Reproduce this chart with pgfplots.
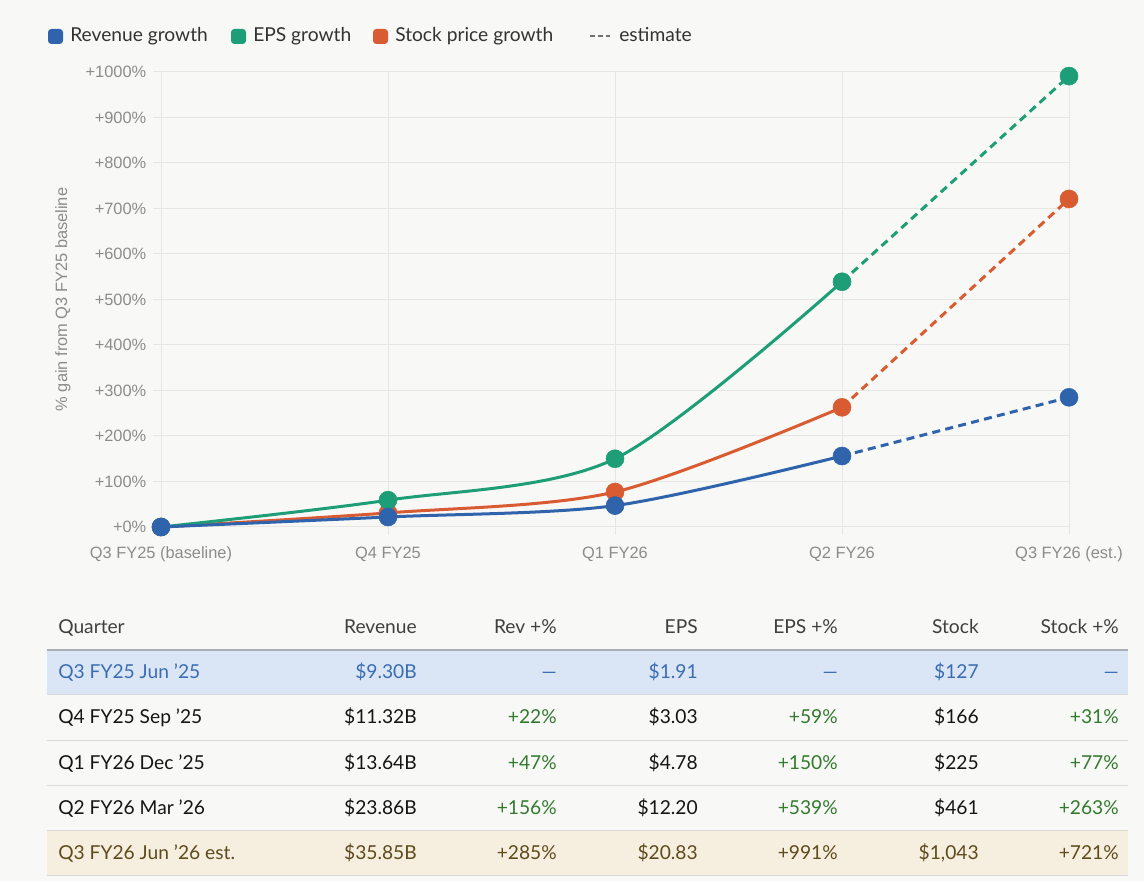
\documentclass[border=0pt]{standalone}
\usepackage{pgfplots}
\pgfplotsset{compat=1.18}
\usepackage{fontspec}
\setmainfont{Lato}
\newfontfamily\arial{Liberation Sans}
\definecolor{bg}{HTML}{F8F8F6}
\definecolor{cblue}{HTML}{2F64AD}
\definecolor{cgreen}{HTML}{1E9E76}
\definecolor{corange}{HTML}{D95B31}
\definecolor{gridc}{HTML}{E6E6E4}
\definecolor{tickc}{HTML}{8C8C8C}
\definecolor{hdr}{HTML}{3F3F3F}
\definecolor{legc}{HTML}{333333}
\definecolor{rowblue}{HTML}{DAE5F5}
\definecolor{rowbeige}{HTML}{F6EEDF}
\definecolor{txtblue}{HTML}{3B6DB3}
\definecolor{txtgreen}{HTML}{337A2E}
\definecolor{txtest}{HTML}{5E4B1C}
\definecolor{txtblack}{HTML}{151515}
\definecolor{linec}{HTML}{DADADA}
\definecolor{hline}{HTML}{A9AFB8}
\newcommand\tfont{\fontsize{14.4}{17}\selectfont}
\begin{document}
\begin{tikzpicture}[x=0.75pt,y=0.75pt]
\fill[bg] (0,0) rectangle (1144,881);
\useasboundingbox (0,0) rectangle (1144,881);

\begin{axis}[
  at={(120.75pt,265.5pt)}, anchor=south west, scale only axis,
  width=681pt, height=341.25pt,
  xmin=0, xmax=4, ymin=0, ymax=1000, clip=false,
  axis line style={draw=none},
  grid=major, major grid style={gridc, line width=0.75pt},
  xtick={0,1,2,3,4},
  xticklabels={Q3 FY25 (baseline),Q4 FY25,Q1 FY26,Q2 FY26,Q3 FY26 (est.)},
  ytick={0,100,200,300,400,500,600,700,800,900,1000},
  yticklabels={+0\%,+100\%,+200\%,+300\%,+400\%,+500\%,+600\%,+700\%,+800\%,+900\%,+1000\%},
  tick style={gridc, line width=0.75pt}, tick align=outside, major tick length=6pt,
  xtick pos=bottom, ytick pos=left,
  ticklabel style={font=\arial\fontsize{12.3}{14}\selectfont, text=tickc},
  xticklabel style={yshift=-5.5pt},
  yticklabel style={xshift=-1.5pt},
  ylabel={\% gain from Q3 FY25 baseline},
  ylabel style={at={(axis description cs:0,0.5)}, anchor=center, yshift=73.5pt, font=\arial\fontsize{12.3}{14}\selectfont, text=tickc},
]
% stock
\addplot[corange, line width=2.25pt, smooth, tension=0.5] coordinates {(0,0) (1,31) (2,77) (3,263)};
\addplot[corange, line width=2.25pt, dash pattern=on 6pt off 4pt] coordinates {(3,263) (4,721)};
\addplot[only marks, mark=*, mark size=6.75pt, corange, mark options={solid}] coordinates {(0,0) (1,31) (2,77) (3,263) (4,721)};
% eps
\addplot[cgreen, line width=2.25pt, smooth, tension=0.5] coordinates {(0,0) (1,59) (2,150) (3,539)};
\addplot[cgreen, line width=2.25pt, dash pattern=on 6pt off 4pt] coordinates {(3,539) (4,991)};
\addplot[only marks, mark=*, mark size=6.75pt, cgreen, mark options={solid}] coordinates {(0,0) (1,59) (2,150) (3,539) (4,991)};
% revenue
\addplot[cblue, line width=2.25pt, smooth, tension=0.5] coordinates {(0,0) (1,22) (2,47) (3,156)};
\addplot[cblue, line width=2.25pt, dash pattern=on 6pt off 4pt] coordinates {(3,156) (4,285)};
\addplot[only marks, mark=*, mark size=6.75pt, cblue, mark options={solid}] coordinates {(0,0) (1,22) (2,47) (3,156) (4,285)};
\end{axis}

% legend
\fill[cblue, rounded corners=2.5pt] (48,881-44) rectangle (63,881-29);
\node[anchor=base west, inner sep=0, text=legc, font=\tfont] at (70,881-42) {Revenue growth};
\fill[cgreen, rounded corners=2.5pt] (231,881-44) rectangle (246,881-29);
\node[anchor=base west, inner sep=0, text=legc, font=\tfont] at (253,881-42) {EPS growth};
\fill[corange, rounded corners=2.5pt] (373,881-44) rectangle (388,881-29);
\node[anchor=base west, inner sep=0, text=legc, font=\tfont] at (395,881-42) {Stock price growth};
\draw[tickc!80!black, line width=1.5pt, dash pattern=on 4pt off 2pt] (590,881-36) -- (610,881-36);
\node[anchor=base west, inner sep=0, text=legc, font=\tfont] at (619,881-42) {estimate};

% table backgrounds
\fill[rowblue] (47,881-695) rectangle (1128,881-650);
\fill[rowbeige] (47,881-875) rectangle (1128,881-830);
\foreach \yy in {695,740,785,830,875} {\draw[linec, line width=0.75pt] (47,881-\yy) -- (1128,881-\yy);}
\draw[hline, line width=1.1pt] (47,881-650) -- (1128,881-650);

% header
\begin{scope}[every node/.style={inner sep=0, font=\tfont}]
\node[anchor=base west, text=hdr] at (58,881-634) {Quarter};
\node[anchor=base east, text=hdr] at (417,881-634) {Revenue};
\node[anchor=base east, text=hdr] at (557,881-634) {Rev +\%};
\node[anchor=base east, text=hdr] at (698,881-634) {EPS};
\node[anchor=base east, text=hdr] at (838,881-634) {EPS +\%};
\node[anchor=base east, text=hdr] at (979,881-634) {Stock};
\node[anchor=base east, text=hdr] at (1119,881-634) {Stock +\%};
% row 1
\node[anchor=base west, text=txtblue] at (58,881-679) {Q3 FY25 Jun ’25};
\node[anchor=base east, text=txtblue] at (417,881-679) {\$9.30B};
\node[anchor=base east, text=txtblue] at (557,881-679) {—};
\node[anchor=base east, text=txtblue] at (698,881-679) {\$1.91};
\node[anchor=base east, text=txtblue] at (838,881-679) {—};
\node[anchor=base east, text=txtblue] at (979,881-679) {\$127};
\node[anchor=base east, text=txtblue] at (1119,881-679) {—};
% row 2
\node[anchor=base west, text=txtblack] at (58,881-724) {Q4 FY25 Sep ’25};
\node[anchor=base east, text=txtblack] at (417,881-724) {\$11.32B};
\node[anchor=base east, text=txtgreen] at (557,881-724) {+22\%};
\node[anchor=base east, text=txtblack] at (698,881-724) {\$3.03};
\node[anchor=base east, text=txtgreen] at (838,881-724) {+59\%};
\node[anchor=base east, text=txtblack] at (979,881-724) {\$166};
\node[anchor=base east, text=txtgreen] at (1119,881-724) {+31\%};
% row 3
\node[anchor=base west, text=txtblack] at (58,881-769) {Q1 FY26 Dec ’25};
\node[anchor=base east, text=txtblack] at (417,881-769) {\$13.64B};
\node[anchor=base east, text=txtgreen] at (557,881-769) {+47\%};
\node[anchor=base east, text=txtblack] at (698,881-769) {\$4.78};
\node[anchor=base east, text=txtgreen] at (838,881-769) {+150\%};
\node[anchor=base east, text=txtblack] at (979,881-769) {\$225};
\node[anchor=base east, text=txtgreen] at (1119,881-769) {+77\%};
% row 4
\node[anchor=base west, text=txtblack] at (58,881-814) {Q2 FY26 Mar ’26};
\node[anchor=base east, text=txtblack] at (417,881-814) {\$23.86B};
\node[anchor=base east, text=txtgreen] at (557,881-814) {+156\%};
\node[anchor=base east, text=txtblack] at (698,881-814) {\$12.20};
\node[anchor=base east, text=txtgreen] at (838,881-814) {+539\%};
\node[anchor=base east, text=txtblack] at (979,881-814) {\$461};
\node[anchor=base east, text=txtgreen] at (1119,881-814) {+263\%};
% row 5
\node[anchor=base west, text=txtest] at (58,881-859) {Q3 FY26 Jun ’26 est.};
\node[anchor=base east, text=txtest] at (417,881-859) {\$35.85B};
\node[anchor=base east, text=txtest] at (557,881-859) {+285\%};
\node[anchor=base east, text=txtest] at (698,881-859) {\$20.83};
\node[anchor=base east, text=txtest] at (838,881-859) {+991\%};
\node[anchor=base east, text=txtest] at (979,881-859) {\$1,043};
\node[anchor=base east, text=txtest] at (1119,881-859) {+721\%};
\end{scope}
\end{tikzpicture}
\end{document}
